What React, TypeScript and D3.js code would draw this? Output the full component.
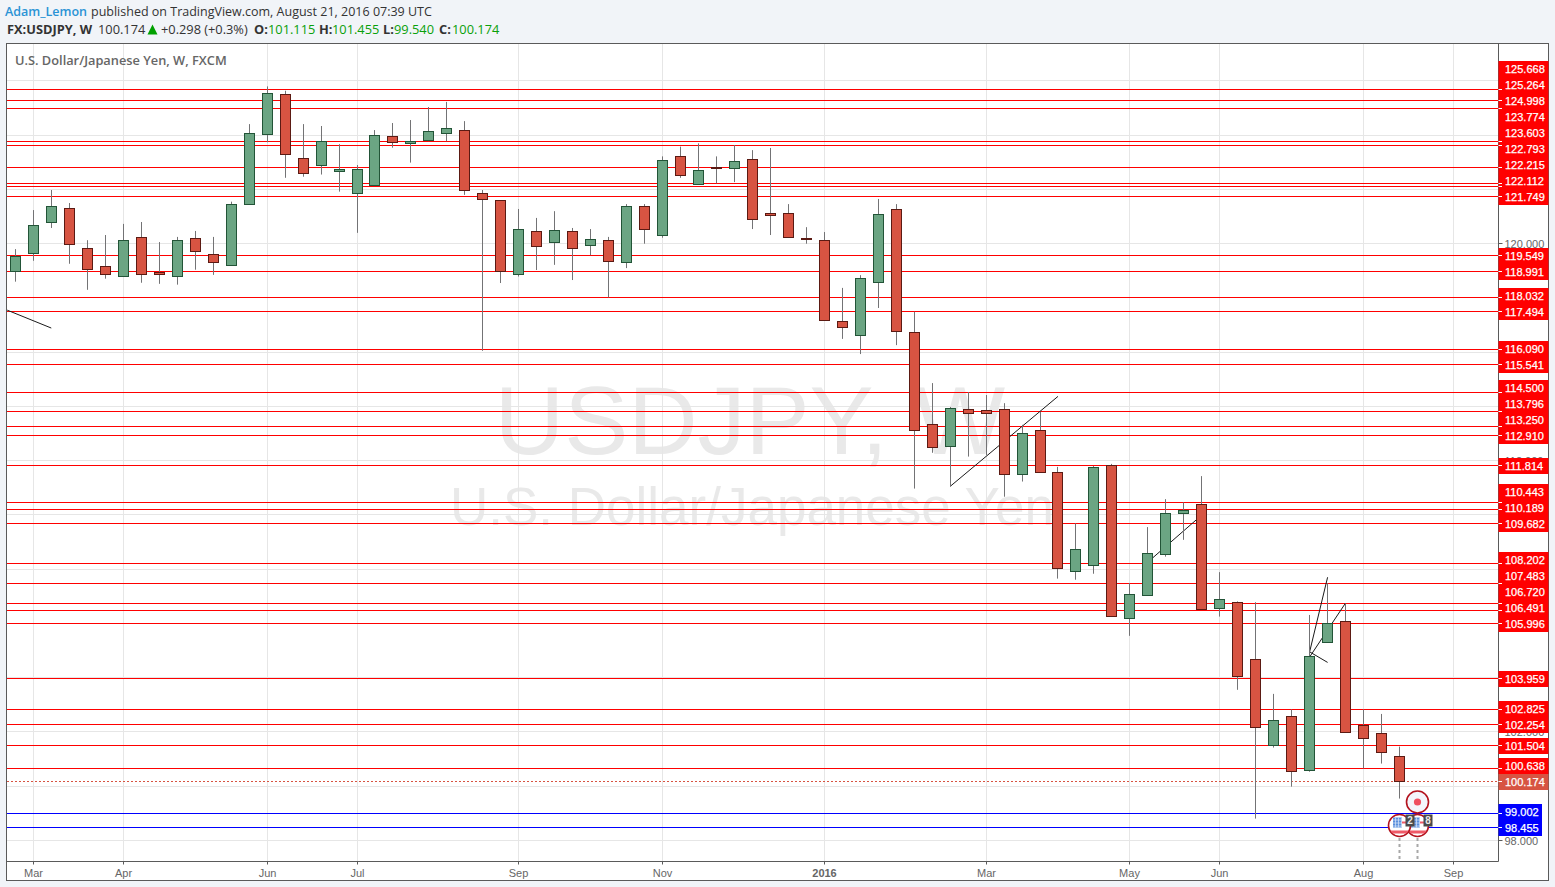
import * as d3 from 'd3';
import React, { useEffect, useRef } from 'react';

// weekly USDJPY candles
const opens = [119.00,119.64,120.79,121.30,119.83,119.17,118.80,120.23,118.97,118.80,120.20,119.61,119.21,121.45,124.03,125.51,123.15,122.89,122.69,121.86,122.15,123.96,123.70,123.81,124.07,124.18,121.86,121.60,118.87,120.46,120.05,120.46,119.94,120.12,119.31,121.38,120.31,123.22,122.19,122.82,122.78,123.11,121.12,121.12,120.20,120.12,117.14,116.62,118.58,121.27,116.73,113.34,112.53,113.89,113.86,113.89,111.50,113.12,111.57,107.92,108.14,111.83,106.19,107.03,108.54,110.06,110.39,106.56,106.78,104.67,101.50,102.57,100.58,105.30,106.07,102.24,101.94,101.115];
const highs = [119.80,121.24,121.98,121.50,120.13,120.32,120.73,120.80,120.06,120.25,120.47,120.25,121.55,124.41,125.80,125.64,124.41,124.34,123.67,122.90,124.19,124.45,124.56,125.04,125.23,124.52,121.98,121.60,121.28,120.95,121.20,120.58,120.54,120.25,121.46,121.46,123.22,123.58,123.70,123.22,123.64,123.45,123.53,121.46,120.61,120.43,118.37,118.84,121.65,121.46,117.49,114.86,113.98,114.53,114.42,114.12,113.32,113.80,111.77,109.69,111.80,111.88,107.49,109.55,110.58,110.46,111.43,107.89,106.81,106.78,103.40,102.83,106.31,107.48,106.74,102.83,102.66,101.455];
const lows = [118.60,119.37,120.58,119.26,118.30,118.71,118.80,118.56,118.52,118.49,119.04,118.85,119.21,121.45,123.74,122.43,122.47,122.55,121.92,120.40,122.15,123.54,122.99,123.78,123.78,121.80,116.05,118.55,118.79,119.03,119.22,118.66,119.58,118.02,119.10,120.00,120.22,122.43,122.19,122.23,122.27,120.54,120.32,120.23,120.00,117.17,116.49,115.93,117.63,116.26,110.97,112.29,111.06,112.15,112.21,110.67,111.23,111.57,107.65,107.61,107.83,106.26,105.54,107.03,108.46,109.08,106.52,106.25,103.55,98.80,101.42,99.98,100.53,105.30,101.98,100.65,100.83,99.54];
const closes = [119.53,120.68,121.38,119.98,119.05,118.88,120.12,118.87,118.87,120.12,119.72,119.31,121.45,124.07,125.54,123.30,122.60,123.78,122.74,122.74,124.00,123.74,123.78,124.14,124.25,121.97,121.64,118.98,120.53,119.91,120.49,119.83,120.16,119.35,121.38,120.53,123.07,122.52,122.71,122.78,123.04,120.90,121.05,120.23,120.16,117.17,116.92,118.72,121.08,116.77,113.12,112.49,113.93,113.75,113.75,111.50,113.01,111.57,108.03,108.73,111.75,106.26,107.07,108.58,110.06,110.17,106.52,106.89,104.05,102.17,102.43,100.54,104.79,106.00,101.98,101.76,101.24,100.174];

const redLevels = [125.668,125.264,124.998,123.774,123.603,122.793,122.215,122.112,121.749,119.549,118.991,118.032,117.494,116.090,115.541,114.500,113.796,113.250,112.910,111.814,110.443,110.189,109.682,108.202,107.483,106.720,106.491,105.996,103.959,102.825,102.254,101.504,100.638];
const blueLevels = [99.002,98.455];
const lastPrice = 100.174;
const priceTicks = [98,100,102,104,106,108,110,112,114,116,118,120,122,124,126];
// the other tick labels sit fully behind the level labels
const shownTickLabels = [98,102,112,120];

const monthLabels = ['Mar','Apr','Jun','Jul','Sep','Nov','2016','Mar','May','Jun','Aug','Sep'];
const monthIndex = [1,6,14,19,28,36,45,54,62,67,75,80];

// hand drawn trend lines: [bar, price, bar, price]
const trendLines = [
  [-0.46,117.55,1.99,116.89],
  [52,111.05,58,114.37],
  [63,108.26,65.75,109.85],
  [72,104.95,73,107.70],
  [72,104.95,73,104.56],
  [72,104.76,74,106.75],
];

const WIDTH = 1555;
const HEIGHT = 887;
const plot = { left: 7, top: 44, right: 1498, bottom: 861 };
const armBar = 77;
const earningsBars = [77, 78];
const earningsCounts = ['2', '8'];
const SANS = '"Liberation Sans", Arial, sans-serif';
const HEAD = '"Open Sans", sans-serif';

const snap = (v: number) => Math.floor(v) + 0.5;

export default function App() {
  const ref = useRef<SVGSVGElement>(null);

  useEffect(() => {
    const svg = d3.select(ref.current);
    svg.selectAll('*').remove();

    const x = d3.scaleLinear().domain([0, 77]).range([15.5, 1399.5]);
    const y = d3.scaleLinear().domain([98, 120]).range([840.32, 243.7]);

    svg.append('rect').attr('width', WIDTH).attr('height', HEIGHT).attr('fill', '#f1f4f8');
    svg.append('rect').attr('x', 6.5).attr('y', 43.5).attr('width', 1542).attr('height', 837)
      .attr('fill', '#fff').attr('stroke', '#5a5a5a');

    svg.append('clipPath').attr('id', 'plot-clip').append('rect')
      .attr('x', plot.left).attr('y', plot.top)
      .attr('width', plot.right - plot.left).attr('height', plot.bottom - plot.top);

    const chart = svg.append('g').attr('clip-path', 'url(#plot-clip)');

    // watermark
    chart.append('text').attr('x', 750).attr('y', 454).attr('text-anchor', 'middle')
      .attr('font-family', SANS).attr('font-size', 96).attr('fill', '#e9e9e9').text('USDJPY, W');
    chart.append('text').attr('x', 752).attr('y', 525).attr('text-anchor', 'middle')
      .attr('font-family', SANS).attr('font-size', 53).attr('fill', '#e9e9e9').text('U.S. Dollar/Japanese Yen');

    // grid
    chart.selectAll('line.gy').data(priceTicks).join('line').attr('class', 'gy')
      .attr('x1', plot.left).attr('x2', plot.right)
      .attr('y1', d => snap(y(d))).attr('y2', d => snap(y(d)))
      .attr('stroke', '#e6e6e6');
    chart.selectAll('line.gx').data(monthIndex).join('line').attr('class', 'gx')
      .attr('x1', d => snap(x(d))).attr('x2', d => snap(x(d)))
      .attr('y1', plot.top).attr('y2', plot.bottom)
      .attr('stroke', '#e6e6e6');

    // horizontal levels
    const drawLevels = (levels: number[], color: string) => {
      chart.append('g').selectAll('line').data(levels).join('line')
        .attr('x1', plot.left).attr('x2', plot.right)
        .attr('y1', d => snap(y(d))).attr('y2', d => snap(y(d)))
        .attr('stroke', color);
    };
    drawLevels(redLevels, '#ff0000');
    drawLevels(blueLevels, '#0000ff');
    chart.append('line').attr('x1', plot.left).attr('x2', plot.right)
      .attr('y1', snap(y(lastPrice))).attr('y2', snap(y(lastPrice)))
      .attr('stroke', '#d75442').attr('stroke-dasharray', '2 2');

    // trend lines
    chart.append('g').selectAll('line').data(trendLines).join('line')
      .attr('x1', d => x(d[0])).attr('y1', d => y(d[1]))
      .attr('x2', d => x(d[2])).attr('y2', d => y(d[3]))
      .attr('stroke', '#1a1a1a').attr('stroke-width', 1);

    // candles
    const bars = d3.range(opens.length);
    chart.append('g').selectAll('line').data(bars).join('line')
      .attr('x1', i => snap(x(i))).attr('x2', i => snap(x(i)))
      .attr('y1', i => y(highs[i])).attr('y2', i => y(lows[i]))
      .attr('stroke', '#737375');
    chart.append('g').selectAll('rect').data(bars).join('rect')
      .attr('x', i => snap(x(i)) - 5)
      .attr('width', 10)
      .attr('y', i => Math.round(y(Math.max(opens[i], closes[i]))) + 0.5)
      .attr('height', i => Math.max(1, Math.round(y(Math.min(opens[i], closes[i]))) - Math.round(y(Math.max(opens[i], closes[i])))))
      .attr('fill', i => closes[i] >= opens[i] ? '#6ba583' : '#d75442')
      .attr('stroke', i => closes[i] >= opens[i] ? '#225437' : '#5b1a13');

    // event markers
    const markers = chart.append('g');
    earningsBars.forEach(b => {
      markers.append('line').attr('x1', snap(x(b))).attr('x2', snap(x(b)))
        .attr('y1', 838).attr('y2', 861)
        .attr('stroke', '#a8a8a8').attr('stroke-width', 2).attr('stroke-dasharray', '3 3');
    });
    earningsBars.slice().reverse().forEach((b, k) => {
      const cx = snap(x(b));
      const cy = 825.5;
      const clipId = `flag-${b}`;
      svg.append('clipPath').attr('id', clipId).append('circle').attr('cx', cx).attr('cy', cy).attr('r', 10.5);
      const flag = markers.append('g');
      flag.append('circle').attr('cx', cx).attr('cy', cy).attr('r', 11).attr('fill', '#fff')
        .attr('stroke', '#b3121d').attr('stroke-width', 1.6);
      const inner = flag.append('g').attr('clip-path', `url(#${clipId})`);
      inner.append('rect').attr('x', cx - 11).attr('y', cy + 5).attr('width', 22).attr('height', 3).attr('fill', '#ef5a68');
      inner.append('rect').attr('x', cx + 2).attr('y', cy - 4).attr('width', 9).attr('height', 2).attr('fill', '#ef5a68');
      inner.append('rect').attr('x', cx - 6.5).attr('y', cy - 8).attr('width', 9).attr('height', 10).attr('fill', '#5b8fdc');
      d3.range(3).forEach(r => {
        inner.append('line').attr('x1', cx - 6.5).attr('x2', cx + 2.5)
          .attr('y1', cy - 5.5 + r * 3).attr('y2', cy - 5.5 + r * 3).attr('stroke', '#dbe6f8').attr('stroke-width', 0.7);
        inner.append('line').attr('x1', cx - 4 + r * 3).attr('x2', cx - 4 + r * 3)
          .attr('y1', cy - 8).attr('y2', cy + 2).attr('stroke', '#dbe6f8').attr('stroke-width', 0.7);
      });
      const count = earningsCounts[earningsBars.length - 1 - k];
      flag.append('rect').attr('x', cx + 6).attr('y', cy - 11).attr('width', 9).attr('height', 12).attr('fill', '#4a4a4a');
      flag.append('text').attr('x', cx + 10.5).attr('y', cy - 1.5).attr('text-anchor', 'middle')
        .attr('font-family', SANS).attr('font-size', 10).attr('font-weight', 'bold').attr('fill', '#e8e8e8').text(count);
    });
    const dotX = snap(x(earningsBars[1]));
    markers.append('circle').attr('cx', dotX).attr('cy', 802).attr('r', 11).attr('fill', '#f4f5fb')
      .attr('stroke', '#b3121d').attr('stroke-width', 1.6);
    markers.append('circle').attr('cx', dotX).attr('cy', 802).attr('r', 3.6).attr('fill', '#ef4f60');

    // axes
    const axisColor = '#5a5a5a';
    const priceFormat = d3.format('.3f');
    const priceAxis = svg.append('g').attr('transform', `translate(${plot.right + 0.5},0)`)
      .call(d3.axisRight(y).tickValues(priceTicks)
        .tickFormat((d: any) => shownTickLabels.includes(d) ? priceFormat(d) : '')
        .tickSize(4).tickPadding(2).offset(0));
    priceAxis.select('.domain').remove();
    priceAxis.selectAll('.tick').attr('transform', (d: any) => `translate(0,${snap(y(d))})`);
    priceAxis.selectAll('.tick line').attr('stroke', axisColor);
    priceAxis.selectAll('.tick text').attr('fill', '#666').attr('font-family', SANS).attr('font-size', 11).attr('dy', '0.42em');

    const timeAxis = svg.append('g').attr('transform', `translate(0,${plot.bottom + 0.5})`)
      .call(d3.axisBottom(x).tickValues(monthIndex)
        .tickFormat((_: any, i: number) => monthLabels[i]).tickSize(3).tickPadding(5).offset(0));
    timeAxis.select('.domain').remove();
    timeAxis.selectAll('.tick').attr('transform', (d: any) => `translate(${snap(x(d))},0)`);
    timeAxis.selectAll('.tick line').attr('stroke', axisColor);
    timeAxis.selectAll('.tick text').attr('fill', '#666').attr('font-family', SANS).attr('font-size', 11)
      .attr('font-weight', (_: any, i: number) => monthLabels[i] === '2016' ? 'bold' : 'normal');

    svg.append('line').attr('x1', plot.right + 0.5).attr('x2', plot.right + 0.5)
      .attr('y1', 43.5).attr('y2', plot.bottom + 0.5).attr('stroke', axisColor);
    svg.append('line').attr('x1', 6.5).attr('x2', plot.right + 0.5)
      .attr('y1', plot.bottom + 0.5).attr('y2', plot.bottom + 0.5).attr('stroke', axisColor);

    // price labels, pushed upward so they stack without overlap
    const labelLevels = [
      ...redLevels.map(v => ({ v, color: '#ff0000' })),
      ...blueLevels.map(v => ({ v, color: '#0000ff' })),
      { v: lastPrice, color: '#d75442' },
    ].sort((a, b) => a.v - b.v);
    let prev = 829 + 16;
    const placed = labelLevels.map(d => {
      const cy = Math.min(snap(y(d.v)) + 0.5, prev - 16);
      prev = cy;
      return { ...d, cy };
    });
    const labels = svg.append('g').selectAll('g').data(placed).join('g');
    labels.append('rect').attr('x', plot.right + 0.5)
      .attr('y', d => d.cy - 8).attr('height', 16)
      .attr('width', d => d.v < 100 ? 43.5 : 50)
      .attr('fill', d => d.color);
    labels.append('line').attr('x1', plot.right + 0.5).attr('x2', plot.right + 4)
      .attr('y1', d => snap(y(d.v))).attr('y2', d => snap(y(d.v))).attr('stroke', '#fff');
    labels.append('text').attr('x', 1505).attr('y', d => d.cy + 4)
      .attr('font-family', SANS).attr('font-size', 11).attr('fill', '#fff')
      .attr('stroke', '#fff').attr('stroke-width', 0.25)
      .text(d => d.v.toFixed(3));

    // headers
    const head = svg.append('g').attr('font-family', HEAD).attr('font-size', 12.5).attr('fill', '#333');
    head.append('text').attr('x', 5).attr('y', 16).attr('fill', '#2a93d5').attr('font-weight', 600).text('Adam_Lemon');
    head.append('text').attr('x', 91).attr('y', 16).text('published on TradingView.com, August 21, 2016 07:39 UTC');

    const row = svg.append('g').attr('font-family', HEAD).attr('font-size', 12.8).attr('fill', '#333');
    row.append('text').attr('x', 7).attr('y', 34).attr('font-weight', 'bold').text('FX:USDJPY, W');
    row.append('text').attr('x', 98).attr('y', 34).text(closes[armBar].toFixed(3));
    row.append('path').attr('d', 'M147.5 34.5 L152.5 24.5 L157.5 34.5 Z').attr('fill', '#00a000');
    row.append('text').attr('x', 161).attr('y', 34).text('+0.298 (+0.3%)');
    const ohlc: [string, number, number, number][] = [
      ['O:', opens[armBar], 254, 268],
      ['H:', highs[armBar], 319, 332],
      ['L:', lows[armBar], 383, 394],
      ['C:', closes[armBar], 439, 452],
    ];
    ohlc.forEach(([k, v, kx, vx]) => {
      row.append('text').attr('x', kx).attr('y', 34).attr('font-weight', 'bold').text(k);
      row.append('text').attr('x', vx).attr('y', 34).attr('fill', '#0aa00a').text(v.toFixed(3));
    });

    svg.append('text').attr('x', 15).attr('y', 65).attr('font-family', HEAD).attr('font-size', 12.8)
      .attr('font-weight', 600).attr('fill', '#666').text('U.S. Dollar/Japanese Yen, W, FXCM');
  }, []);

  return <svg ref={ref} width={WIDTH} height={HEIGHT} style={{ position: 'absolute', left: 0, top: 0 }} />;
}
